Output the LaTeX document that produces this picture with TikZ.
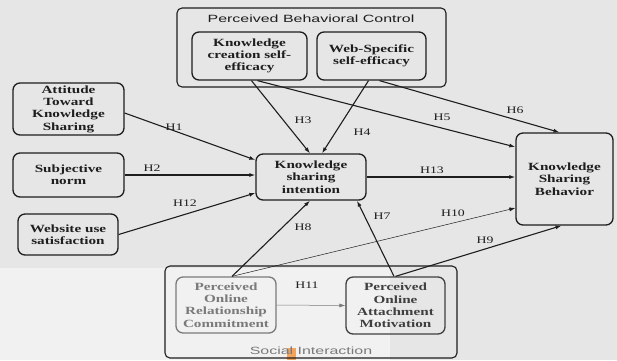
\documentclass[tikz,border=0pt]{standalone}
\usepackage{fontspec}
\setmainfont[FakeStretch=1.38]{Liberation Serif}
\newfontfamily\sansf[FakeStretch=1.52]{Liberation Sans}
\usetikzlibrary{arrows.meta}
\definecolor{bg}{HTML}{E6E6E6}
\definecolor{bglight}{HTML}{F1F1F1}
\definecolor{ink}{HTML}{1E1E1E}
\definecolor{faint}{HTML}{7A7A7A}
\definecolor{orangemark}{HTML}{F2A35E}
\tikzset{
  box/.style={draw=ink, line width=1.3pt, rounded corners=7pt, inner sep=0pt, align=center,
    text=ink, font=\fontsize{11}{12.3}\selectfont\bfseries},
  group/.style={draw=ink, line width=1.1pt, rounded corners=5pt, inner sep=0pt},
  grouptitle/.style={text=ink, font=\sansf\fontsize{10.5}{12}\selectfont, inner sep=0pt},
  conn/.style={draw=ink, line width=1.1pt, -{Latex[length=6pt,width=4pt]}},
  thinconn/.style={draw=ink, line width=0.5pt, -{Latex[length=6pt,width=4pt]}},
  hlab/.style={text=ink, font=\fontsize{10}{12}\selectfont, inner sep=0pt}
}
\begin{document}
\begin{tikzpicture}[x=1pt,y=-1pt]
\useasboundingbox (0,0) rectangle (617,360);
\fill[bg] (0,0) rectangle (617,360);
\fill[bglight] (0,268) rectangle (390,360);
\fill[orangemark] (287,348) rectangle (296,360);
% groups
\node[group, minimum width=269pt, minimum height=79pt] (pbc) at (311.5,47.5) {};
\node[grouptitle] (pbct) at (311,19) {Perceived Behavioral Control};
\node[group, minimum width=292pt, minimum height=92pt] (si) at (311,312) {};
\node[grouptitle, text=faint] (sit) at (311,351) {Social Interaction};
% boxes
\node[box, minimum width=115pt, minimum height=48pt] (kcse) at (249.5,56) {Knowledge\\creation self-\\efficacy};
\node[box, minimum width=109pt, minimum height=48pt] (wsse) at (371.5,56) {Web-Specific\\self-efficacy};
\node[box, minimum width=111pt, minimum height=52pt] (atks) at (68.5,109) {Attitude\\Toward\\Knowledge\\Sharing};
\node[box, minimum width=111pt, minimum height=44pt] (sn) at (68.5,175) {Subjective\\norm};
\node[box, minimum width=100pt, minimum height=41pt] (wus) at (68,234.5) {Website use\\satisfaction};
\node[box, minimum width=110pt, minimum height=46pt] (ksi) at (311,177) {Knowledge\\sharing\\intention};
\node[box, minimum width=97pt, minimum height=92pt] (ksb) at (564.5,179) {Knowledge\\Sharing\\Behavior};
\node[box, draw=faint, text=faint, minimum width=100pt, minimum height=56pt] (por) at (226,305) {Perceived\\Online\\Relationship\\Commitment};
\node[box, draw=ink!85, text=ink!85, minimum width=99pt, minimum height=57pt] (poam) at (395.5,305.5) {Perceived\\Online\\Attachment\\Motivation};
% connectors
\draw[conn] ([yshift=-4pt]atks.east) -- ([yshift=17pt]ksi.west);
\draw[conn] (sn.east) -- (sn.east -| ksi.west);
\draw[conn] (wus.east) -- ([yshift=-16pt]ksi.west);
\draw[conn] ([xshift=2pt]kcse.south) -- ([xshift=-1pt]ksi.north);
\draw[conn] ([xshift=-3pt]wsse.south) -- ([xshift=11pt]ksi.north);
\draw[conn] ([xshift=8pt]kcse.south) -- ([yshift=32pt]ksb.west);
\draw[conn] ([xshift=8pt]wsse.south) -- ([xshift=-5pt]ksb.north);
\draw[conn] (ksi.east) -- (ksi.east -| ksb.west);
\draw[conn] ([xshift=-1.5pt]poam.north) -- ([xshift=46pt]ksi.south);
\draw[conn] ([xshift=6pt]por.north) -- ([xshift=-1pt]ksi.south);
\draw[thinconn] ([xshift=6pt]por.north) -- ([yshift=-29pt]ksb.west);
\draw[conn] (poam.north) -- ([xshift=-3pt]ksb.south);
\draw[thinconn, draw=faint] (por.east) -- (poam.west);
% labels
\node[hlab] (l1) at (174,127) {H1};
\node[hlab] (l2) at (152,168) {H2};
\node[hlab] (l12) at (185,203) {H12};
\node[hlab] (l3) at (303,120) {H3};
\node[hlab] (l4) at (362,132) {H4};
\node[hlab] (l5) at (442,117) {H5};
\node[hlab] (l6) at (515,110) {H6};
\node[hlab] (l13) at (432,170) {H13};
\node[hlab] (l7) at (382,216) {H7};
\node[hlab] (l10) at (453,213) {H10};
\node[hlab] (l8) at (303,227) {H8};
\node[hlab] (l9) at (485,240) {H9};
\node[hlab] (l11) at (307,285) {H11};
\end{tikzpicture}
\end{document}
